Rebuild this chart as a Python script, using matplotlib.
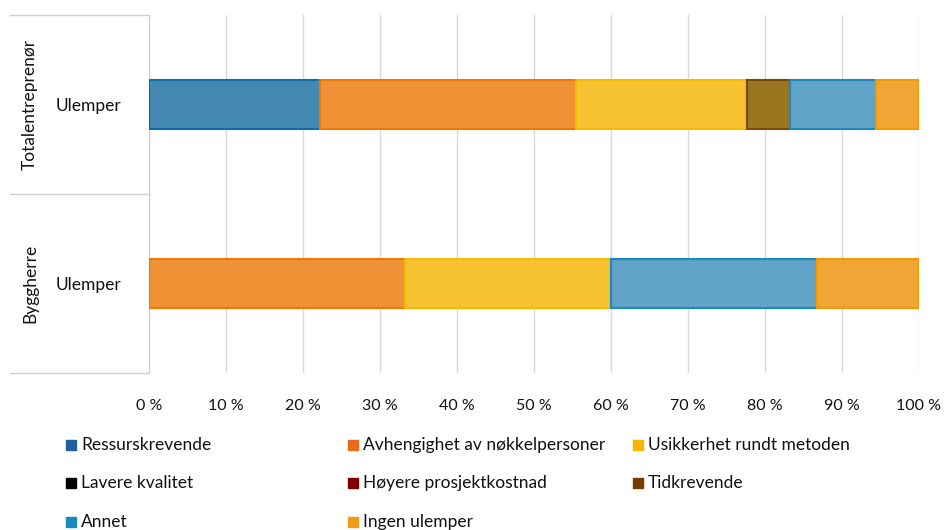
import matplotlib.pyplot as plt
from matplotlib.patches import Rectangle

plt.rcParams['font.family'] = ['Lato', 'DejaVu Sans']

# data
groups = ['Totalentreprenør', 'Byggherre']
inner = ['Ulemper', 'Ulemper']
series = ['Ressurskrevende', 'Avhengighet av nøkkelpersoner', 'Usikkerhet rundt metoden',
          'Lavere kvalitet', 'Høyere prosjektkostnad', 'Tidkrevende',
          'Annet', 'Ingen ulemper']
totalentreprenor = [22.2, 33.3, 22.2, 0, 0, 5.6, 11.1, 5.6]
byggherre = [0, 33.3, 26.7, 0, 0, 0, 26.7, 13.3]
ticks = [0, 10, 20, 30, 40, 50, 60, 70, 80, 90, 100]
tick_labels = ['%d %%' % t for t in ticks]

fills = ['#4389b2', '#ef9135', '#f6c232', '#222222', '#7a1010', '#9a7620', '#62a3c8', '#f0a534']
edges = ['#0e6ea8', '#ec7a05', '#f6b800', '#000000', '#700000', '#7a4a00', '#1a8bc0', '#f29a00']
markers = ['#1f5fa0', '#ec6a1c', '#f8b800', '#000000', '#7a0000', '#7a3a00', '#1a8bc0', '#f29a1a']

W, H = 945, 530
fig = plt.figure(figsize=(W / 100, H / 100), dpi=100)
L, R, T, B = 149, 919, 15, 373
ax = fig.add_axes([L / W, 1 - B / H, (R - L) / W, (B - T) / H])

ypos = [1, 0]
rows = [totalentreprenor, byggherre]
for y, vals in zip(ypos, rows):
    left = 0
    for i, v in enumerate(vals):
        if v > 0:
            ax.barh(y, v, left=left, height=0.27, color=fills[i],
                    edgecolor=edges[i], linewidth=1.5, zorder=3)
        left += v

ax.set_xlim(0, 100)
ax.set_ylim(-0.5, 1.5)
ax.set_xticks(ticks)
ax.set_xticklabels(tick_labels, fontsize=11.5, color='#111111')
ax.tick_params(axis='x', length=0, pad=19)
ax.set_yticks(ypos)
ax.set_yticklabels(inner, fontsize=12.5, color='#111111')
ax.tick_params(axis='y', length=0, pad=20)
ax.grid(axis='x', color='#d9d9d9', linewidth=1, zorder=0)
for s in ['top', 'right', 'bottom']:
    ax.spines[s].set_visible(False)
ax.spines['left'].set_color('#d0d0d0')

# multi-level category borders
tr = ax.get_yaxis_transform()
x0 = (10 - L) / (R - L)
for yy in [1.5, 0.5, -0.5]:
    ax.plot([x0, 0], [yy, yy], color='#d0d0d0', lw=1, transform=tr, clip_on=False)
for y, g in zip(ypos, groups):
    ax.text((30 - L) / (R - L), y, g, transform=tr, rotation=90, ha='center',
            va='center', fontsize=12.5, color='#111111')

# legend
col_x = [66, 348, 633]
row_y = [445, 483, 522]
for i, name in enumerate(series):
    r, c = divmod(i, 3)
    mx, my = col_x[c], row_y[r]
    fig.patches.append(Rectangle((mx / W, 1 - (my + 5) / H), 10 / W, 10 / H,
                                 transform=fig.transFigure, color=markers[i]))
    fig.text((mx + 15) / W, 1 - my / H, name, ha='left', va='center',
             fontsize=12.5, color='#111111')

fig.savefig('out.png', dpi=100)
